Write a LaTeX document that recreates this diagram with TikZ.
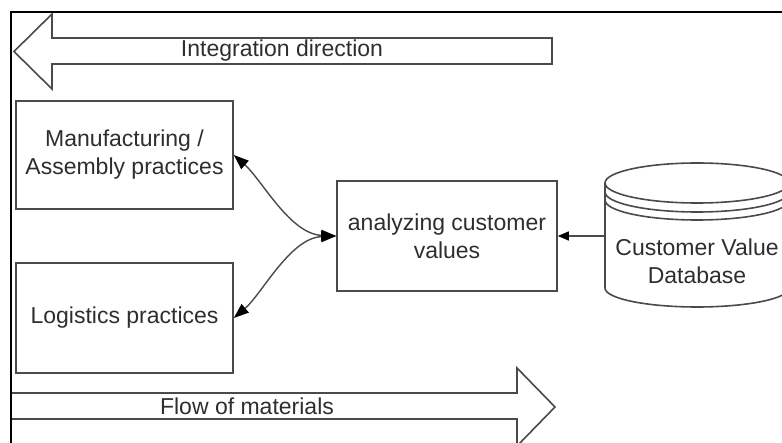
\documentclass[tikz,border=0pt]{standalone}
\usepackage{fontspec}
\setmainfont{Liberation Sans}
\usetikzlibrary{arrows.meta}
\definecolor{linegray}{HTML}{4A4A4A}
\definecolor{textgray}{HTML}{2E2E2E}
\begin{document}
\begin{tikzpicture}[x=1pt,y=-1pt,
  every node/.style={text=textgray, font=\fontsize{23}{28}\selectfont, align=center, inner sep=0pt},
  box/.style={draw=linegray, line width=1.6pt},
  outline/.style={draw=linegray, line width=1.6pt, line join=miter},
  link/.style={draw=linegray, line width=1.4pt},
  bigtip/.tip={Triangle[length=15pt,width=11pt,color=black]},
  smalltip/.tip={Triangle[length=11pt,width=9pt,color=black]}]
\useasboundingbox (0,0) rectangle (782,443);
\clip (0,0) rectangle (782,443);

% wide arrow: integration direction (pointing left)
\draw[outline] (552,38) -- (52,38) -- (52,14) -- (14,51.5) -- (52,89) -- (52,64) -- (552,64) -- cycle;
\node (integ) at (282,51) {Integration direction};

% wide arrow: flow of materials (pointing right)
\draw[outline] (11,393) -- (517,393) -- (517,368) -- (555,407) -- (517,446) -- (517,419) -- (11,419) -- cycle;
\node (flow) at (247,406) {Flow of materials};

% practice boxes
\node[box, minimum width=217pt, minimum height=108pt] (manuf) at (124.5,155) {Manufacturing /\\Assembly practices};
\node[box, minimum width=217pt, minimum height=110pt] (logis) at (124.5,318) {Logistics practices};

% analysis box
\node[box, minimum width=220pt, minimum height=110pt] (ana) at (447,236) {analyzing customer\\values};

% database cylinder
\draw[outline] (697,183) ellipse [x radius=92, y radius=20];
\draw[outline] (605,192) arc [start angle=180, end angle=0, x radius=92, y radius=20];
\draw[outline] (605,200) arc [start angle=180, end angle=0, x radius=92, y radius=20];
\draw[outline] (605,183) -- (605,288) arc [start angle=180, end angle=0, x radius=92, y radius=19] -- (789,183);
\node (db) at (697,261) {Customer Value\\Database};
\coordinate (dbin) at (605,236);

% connectors
\draw[link, {bigtip}-{bigtip}] (manuf.east) .. controls (262,180) and (290,234) .. (ana.west);
\draw[link, {bigtip}-{bigtip}] (logis.east) .. controls (262,294) and (290,238) .. (ana.west);
\draw[link, -{smalltip}] (dbin) -- (ana.east);

% frame
\draw[black, line width=2.5pt] (11,450) -- (11,12) -- (790,12);
\end{tikzpicture}
\end{document}
